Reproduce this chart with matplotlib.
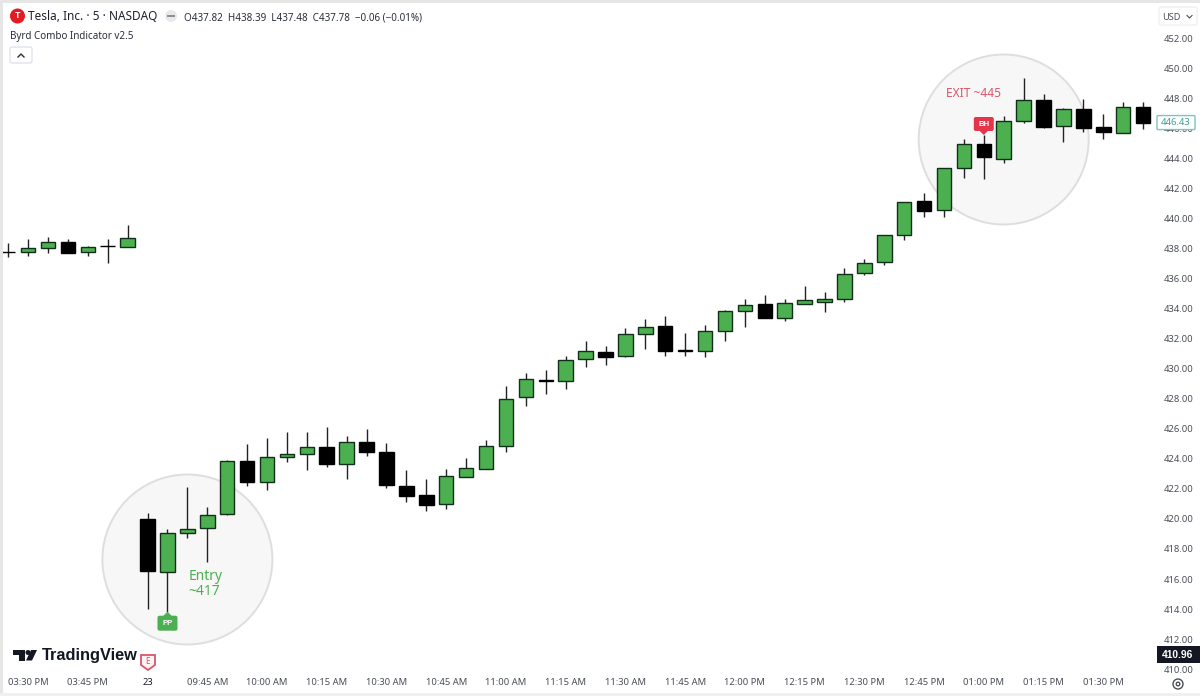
import matplotlib
matplotlib.use("Agg")
import matplotlib.pyplot as plt
from matplotlib.patches import Ellipse, Rectangle, FancyBboxPatch, Circle, Polygon

plt.rcParams['font.family'] = ['Noto Sans', 'DejaVu Sans']

# 5 minute TSLA bars
opens = [437.82, 437.78, 438.07, 438.45, 437.80, 438.20, 438.11,
         420.02, 416.49, 419.07, 419.38, 420.35, 423.85, 422.49, 424.15, 424.35, 424.80, 423.69, 425.13,
         424.45, 422.22, 421.58, 420.98, 422.82, 423.35, 424.85, 428.13, 429.28, 429.18, 430.67, 431.11,
         430.87, 432.31, 432.89, 431.24, 431.18, 432.51, 433.89, 434.33, 433.40, 434.35, 434.49, 434.65,
         436.38, 437.11, 438.91, 441.20, 440.58, 443.42, 445.02, 444.00, 446.53, 447.91, 446.20, 447.33,
         446.11, 445.75, 447.49]
highs = [438.39, 438.67, 438.78, 438.67, 438.20, 438.67, 439.58,
         420.42, 419.31, 422.15, 420.78, 423.92, 424.98, 425.40, 425.80, 425.80, 426.15, 425.53, 425.98,
         425.09, 423.29, 422.69, 423.31, 424.07, 425.27, 428.85, 429.71, 429.93, 430.85, 431.89, 431.53,
         432.73, 433.31, 433.53, 432.38, 432.95, 433.92, 434.65, 434.91, 434.65, 435.51, 435.11, 436.71,
         437.35, 438.95, 441.16, 441.73, 443.42, 445.33, 445.60, 446.87, 449.42, 448.35, 447.42, 447.98,
         446.98, 447.78, 447.78]
lows = [437.48, 437.55, 437.71, 437.73, 437.53, 437.05, 438.11,
        413.98, 413.82, 418.75, 417.15, 420.30, 422.22, 421.93, 423.78, 423.27, 423.49, 422.67, 424.20,
        422.09, 421.15, 420.55, 420.69, 422.80, 423.33, 424.47, 427.53, 428.33, 428.65, 430.11, 430.29,
        430.80, 431.33, 430.89, 430.89, 430.80, 431.85, 432.82, 433.38, 433.22, 434.33, 433.82, 434.47,
        436.25, 436.95, 438.58, 440.13, 440.15, 442.71, 442.65, 443.71, 446.42, 446.10, 445.11, 445.82,
        445.31, 445.72, 446.00]
closes = [437.78, 438.05, 438.45, 437.73, 438.13, 438.18, 438.71,
          416.53, 419.07, 419.35, 420.25, 423.89, 422.45, 424.11, 424.35, 424.80, 423.67, 425.11, 424.49,
          422.25, 421.55, 420.91, 422.85, 423.42, 424.85, 428.02, 429.33, 429.20, 430.62, 431.20, 430.82,
          432.31, 432.78, 431.18, 431.20, 432.51, 433.89, 434.27, 433.40, 434.38, 434.58, 434.65, 436.31,
          437.07, 438.91, 441.13, 440.55, 443.38, 445.00, 444.11, 446.53, 447.91, 446.15, 447.33, 446.09,
          445.80, 447.49, 446.43]

price_ticks = list(range(410, 454, 2))
time_pos = [1, 4, 7, 10, 13, 16, 19, 22, 25, 28, 31, 34, 37, 40, 43, 46, 49, 52, 55]
time_labels = ['03:30 PM', '03:45 PM', '23', '09:45 AM', '10:00 AM', '10:15 AM', '10:30 AM',
               '10:45 AM', '11:00 AM', '11:15 AM', '11:30 AM', '11:45 AM', '12:00 PM', '12:15 PM',
               '12:30 PM', '12:45 PM', '01:00 PM', '01:15 PM', '01:30 PM']
last_price = 446.43
low_price = 410.96

W, H = 1200, 696
GREEN = '#4caf50'
RED = '#e5354b'
TEXT = '#4a4e57'
BOLD = 'Liberation Sans'

fig = plt.figure(figsize=(12, 6.96), dpi=100, facecolor='white')

# price pane, 15 px per dollar and 19.91 px per bar
left, right, top, bottom = 3, 1157, 4, 675
ax = fig.add_axes([left / W, 1 - bottom / H, (right - left) / W, (bottom - top) / H])
ax.set_xlim((left - 8.2) / 19.91, (right - 8.2) / 19.91)
ax.set_ylim(450 - (bottom - 69) / 15, 450 - (top - 69) / 15)
for s in ax.spines.values():
    s.set_visible(False)
ax.yaxis.tick_right()
ax.set_yticks(price_ticks)
ax.set_yticklabels(['%.2f' % p for p in price_ticks], fontsize=6.8, color=TEXT)
ax.set_xticks(time_pos)
ax.set_xticklabels(time_labels, fontsize=6.8, color=TEXT)
ax.get_xticklabels()[2].set_fontweight('bold')
ax.get_xticklabels()[2].set_color('#1a1d24')
ax.tick_params(length=0)
ax.tick_params(axis='x', pad=2.5)
ax.tick_params(axis='y', pad=5)

# highlight circles around the entry and the exit
ax.add_patch(Ellipse((9, 417.3), 170 / 19.91, 170 / 15, fc='#f7f7f7', ec='#dedede', lw=1.4, zorder=1))
ax.add_patch(Ellipse((50, 445.3), 170 / 19.91, 170 / 15, fc='#f7f7f7', ec='#dedede', lw=1.4, zorder=1))

for i in range(len(opens)):
    o, h, l, c = opens[i], highs[i], lows[i], closes[i]
    col = GREEN if c >= o else 'black'
    ax.plot([i, i], [l, h], color='#222222', lw=1.0, zorder=2, solid_capstyle='butt')
    ax.add_patch(Rectangle((i - 0.365, min(o, c)), 0.73, abs(c - o), fc=col, ec='#10301a' if c >= o else 'black',
                           lw=1.0, zorder=3))

ax.text(9.05, 416.15, 'Entry', color=GREEN, fontsize=10, ha='left', va='center', zorder=4)
ax.text(9.05, 415.2, '~417', color=GREEN, fontsize=10, ha='left', va='center', zorder=4)
ax.text(48.5, 448.35, 'EXIT ~445', color='#d9566a', fontsize=8.6, ha='center', va='center', zorder=4)

# overlay in pixel coordinates for the chart furniture
ov = fig.add_axes([0, 0, 1, 1], zorder=5)
ov.set_xlim(0, W)
ov.set_ylim(H, 0)
ov.axis('off')
ov.patch.set_alpha(0)

fig.canvas.draw()


def to_px(i, p):
    x, y = ax.transData.transform((i, p))
    return x, H - y


# window edges
ov.add_patch(Rectangle((0, 0), 3, H, fc='#e6e6e6', ec='none'))
ov.add_patch(Rectangle((0, 0), W, 3, fc='#e6e6e6', ec='none'))
ov.add_patch(Rectangle((0, 693), W, 3, fc='#f0f0f0', ec='none'))

# header
ov.add_patch(Circle((17.5, 16), 7.5, fc='#e31b23', ec='none'))
ov.text(17.5, 16, 'T', color='white', fontsize=6.5, fontweight='bold', family=BOLD, ha='center', va='center')
ov.text(28, 17, 'Tesla, Inc. · 5 · NASDAQ', fontsize=8.5, color='#1e222d', va='center')
ov.add_patch(Circle((171, 16), 6, fc='#e8e8e8', ec='none'))
ov.add_patch(Rectangle((167, 15), 8, 2, fc='#8a8e96', ec='none'))
ov.text(184, 18, 'O437.82  H438.39  L437.48  C437.78  −0.06 (−0.01%)', fontsize=7.1, color='#2a2e39', va='center')
ov.text(10, 36, 'Byrd Combo Indicator v2.5', fontsize=7.1, color='#2a2e39', va='center')
ov.add_patch(FancyBboxPatch((10, 47), 22, 16, boxstyle='round,pad=0,rounding_size=2', fc='white', ec='#e0e3eb', lw=1))
ov.plot([18, 21, 24], [57, 54, 57], color='#2a2e39', lw=1)

ov.add_patch(FancyBboxPatch((1159, 7), 38, 18, boxstyle='round,pad=0,rounding_size=2', fc='white', ec='#f0f0f0', lw=1))
ov.text(1171, 17, 'USD', fontsize=6.6, color=TEXT, ha='center', va='center')
ov.plot([1187, 1189.5, 1192], [15.5, 18, 15.5], color=TEXT, lw=0.8)

# last price and low price tags
x0, y0 = 1157, to_px(0, last_price)[1]
ov.add_patch(FancyBboxPatch((x0, y0 - 7), 38, 14, boxstyle='round,pad=0,rounding_size=1', fc='white', ec='#7fc4bd', lw=1))
ov.text(x0 + 19, y0, '%.2f' % last_price, fontsize=6.8, color='#3d9e93', ha='center', va='center')
y1 = to_px(0, low_price)[1]
ov.add_patch(Rectangle((x0, y1 - 8.5), 43, 17, fc='#131722', ec='none'))
ov.text(x0 + 21, y1, '%.2f' % low_price, fontsize=7.4, color='white', fontweight='bold', family=BOLD,
        ha='center', va='center')

# signal badges
bx, by = to_px(8, lows[8])
ov.add_patch(Polygon([(bx - 5, by + 5), (bx, by), (bx + 5, by + 5)], fc=GREEN, ec='none'))
ov.add_patch(FancyBboxPatch((bx - 10, by + 4), 20, 15, boxstyle='round,pad=0,rounding_size=2', fc=GREEN, ec='none'))
ov.text(bx, by + 12, 'PP', fontsize=5.6, color='white', fontweight='bold', family=BOLD, ha='center', va='center')
bx, by = to_px(49, highs[49])
ov.add_patch(Polygon([(bx - 5, by - 5), (bx, by), (bx + 5, by - 5)], fc=RED, ec='none'))
ov.add_patch(FancyBboxPatch((bx - 10, by - 18), 20, 14, boxstyle='round,pad=0,rounding_size=2', fc=RED, ec='none'))
ov.text(bx, by - 11, 'BH', fontsize=5.6, color='white', fontweight='bold', family=BOLD, ha='center', va='center')

# TradingView mark
ov.add_patch(Polygon([(13, 650), (24.5, 650), (24.5, 660.5), (18.5, 660.5), (18.5, 654.5), (13, 654.5)],
                     fc='#131722', ec='none'))
ov.add_patch(Circle((28, 652.5), 2.5, fc='#131722', ec='none'))
ov.add_patch(Polygon([(31, 650), (37, 650), (32, 660.5), (26, 660.5)], fc='#131722', ec='none'))
ov.text(42, 655.5, 'TradingView', fontsize=11.8, fontweight='bold', family=BOLD, color='#131722', va='center')

# earnings flag
ov.add_patch(Polygon([(141, 655), (155, 655), (155, 665), (148, 670), (141, 665)], fc='#fdf3f4', ec='#d9566a', lw=1.3))
ov.text(148, 661.5, 'E', fontsize=6, color='#d9566a', ha='center', va='center')

# settings gear
ov.add_patch(Circle((1178, 684), 5, fc='none', ec=TEXT, lw=1))
ov.add_patch(Circle((1178, 684), 1.8, fc='none', ec=TEXT, lw=1))

fig.savefig('out.png', dpi=100)
